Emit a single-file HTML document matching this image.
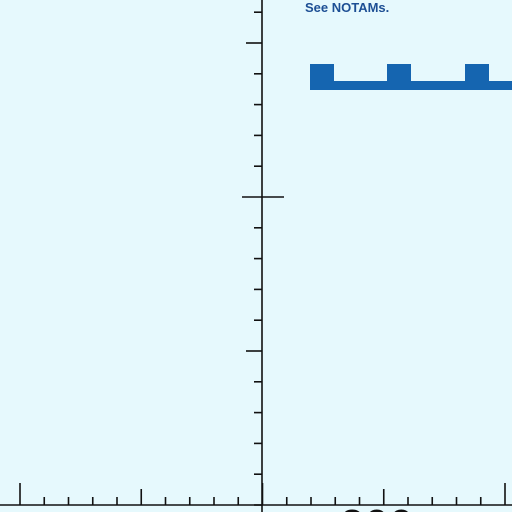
<!DOCTYPE html>
<html><head><style>
html,body{margin:0;width:512px;height:512px;overflow:hidden;background:#e6f9fd;}
svg{display:block}
</style></head><body>
<svg width="512" height="512" style="overflow:hidden">
<rect width="512" height="512" fill="#e6f9fd"/>
<text x="305" y="12" font-family="Liberation Sans, sans-serif" font-size="13" font-weight="bold" fill="#1d4f94">See NOTAMs.</text>
<g fill="#1565b0">
<rect x="310" y="81" width="202" height="9"/>
<rect x="310" y="64" width="24" height="26"/>
<rect x="387" y="64" width="24" height="26"/>
<rect x="465" y="64" width="24" height="26"/>
</g>
<g id="axes" stroke="#111" stroke-width="1.6" fill="none"></g>
<text x="340" y="540" font-family="Liberation Sans, sans-serif" font-size="44" fill="#111">300</text>
</svg>
<script>
const g=document.getElementById('axes');
function ln(x1,y1,x2,y2,name){const l=document.createElementNS('http://www.w3.org/2000/svg','line');l.setAttribute('x1',x1);l.setAttribute('y1',y1);l.setAttribute('x2',x2);l.setAttribute('y2',y2);


g.appendChild(l);}
ln(262,0,262,512,'vertical-axis');
ln(0,505,512,505,'horizontal-axis');
for(let i=0;i<=20;i++){const x=20+i*24.25;let h=i%10==0?22:(i%5==0?16:8);ln(x,505-h,x,505,'x-tick');}
for(let i=-6;i<=10;i++){const y=197+i*30.8;let len=i==0?20:(i==-5||i==5?16:8);ln(262-len,y,i==0?284:262,y,'y-tick');}
</script>
</body></html>
